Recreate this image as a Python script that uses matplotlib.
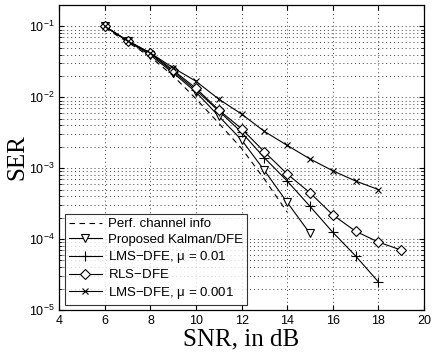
import matplotlib
matplotlib.use("Agg")
import matplotlib.pyplot as plt
import numpy as np
from matplotlib.ticker import LogLocator, FixedLocator

plt.rcParams['font.family'] = ['Liberation Sans', 'DejaVu Sans']
plt.rcParams['mathtext.default'] = 'regular'

# SNR in dB and SER for each equalizer
snr_perf = [6, 7, 8, 9, 10, 11, 12, 13, 14]
ser_perf = [0.095, 0.06, 0.037, 0.02, 0.0095, 0.0043, 0.0019, 0.0007, 0.00024]

snr_kalman = [6, 7, 8, 9, 10, 11, 12, 13, 14, 15]
ser_kalman = [0.1, 0.062, 0.039, 0.022, 0.0118, 0.0054, 0.0025, 0.00093, 0.00033, 0.00012]

snr_lms01 = [6, 7, 8, 9, 10, 11, 12, 13, 14, 15, 16, 17, 18]
ser_lms01 = [0.1, 0.062, 0.041, 0.023, 0.0126, 0.0064, 0.0032, 0.0014, 0.00066,
             0.00029, 0.000125, 0.000058, 0.000025]

snr_rls = [6, 7, 8, 9, 10, 11, 12, 13, 14, 15, 16, 17, 18, 19]
ser_rls = [0.1, 0.063, 0.042, 0.024, 0.0134, 0.0066, 0.0036, 0.0017, 0.00083,
           0.00045, 0.00022, 0.000129, 0.000091, 0.00007]

snr_lms001 = [6, 7, 8, 9, 10, 11, 12, 13, 14, 15, 16, 17, 18]
ser_lms001 = [0.1, 0.062, 0.042, 0.026, 0.0168, 0.0094, 0.0058, 0.0033, 0.0021,
              0.00135, 0.00092, 0.00066, 0.0005]

fig = plt.figure(figsize=(4.33, 3.58), dpi=100)
ax = fig.add_axes([0.137, 0.134, 0.842, 0.852])

lw = 0.8
ms = 6
ax.semilogy(snr_perf, ser_perf, '--', color='k', lw=lw, dashes=(5, 4),
            label='Perf. channel info')
ax.semilogy(snr_kalman, ser_kalman, '-', color='k', lw=lw, marker='v', ms=ms,
            mfc='white', mec='k', mew=0.8, label='Proposed Kalman/DFE')
ax.semilogy(snr_lms01, ser_lms01, '-', color='k', lw=lw, marker='+', ms=ms + 1.5,
            mew=0.8, label=r'LMS$-$DFE, $\mu$ = 0.01')
ax.semilogy(snr_rls, ser_rls, '-', color='k', lw=lw, marker='D', ms=ms - 0.8,
            mfc='white', mec='k', mew=0.8, label=r'RLS$-$DFE')
ax.semilogy(snr_lms001, ser_lms001, '-', color='k', lw=lw, marker='x', ms=ms - 1,
            mew=0.8, label=r'LMS$-$DFE, $\mu$ = 0.001')

ax.set_xlim(4, 20)
ax.set_ylim(1e-5, 0.2)
ax.xaxis.set_major_locator(FixedLocator([4, 6, 8, 10, 12, 14, 16, 18, 20]))
ax.yaxis.set_major_locator(LogLocator(base=10, numticks=10))
ax.yaxis.set_minor_locator(LogLocator(base=10, subs=np.arange(2, 10), numticks=20))

grid_style = dict(linestyle=(0, (1, 3)), color='0.25', lw=0.7)
ax.grid(True, which='major', axis='both', **grid_style)
ax.grid(True, which='minor', axis='y', **grid_style)
ax.tick_params(which='both', direction='in', top=True, right=True, labelsize=9)
ax.tick_params(which='minor', length=2)
for s in ax.spines.values():
    s.set_linewidth(0.9)

ax.set_xlabel('SNR, in dB', fontsize=18, family='Liberation Serif', labelpad=1)
ax.set_ylabel('SER', fontsize=18, family='Liberation Serif', labelpad=0)

leg = ax.legend(loc='lower left', fontsize=9.5, frameon=True, fancybox=False,
                edgecolor='k', borderaxespad=0.4, handlelength=2.5,
                labelspacing=0.25, borderpad=0.3, handletextpad=0.5)
leg.get_frame().set_linewidth(0.8)

fig.savefig('out.png', dpi=100)
